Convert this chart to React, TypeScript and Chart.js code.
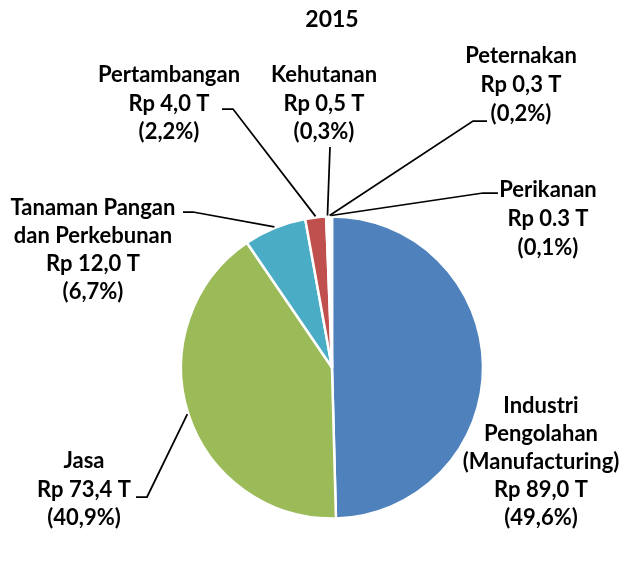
import React, { useEffect, useRef } from 'react';
import { Chart, registerables } from 'chart.js';

Chart.register(...registerables);

const chartTitle = '2015';
const categories = [
  'Industri Pengolahan (Manufacturing)',
  'Jasa',
  'Tanaman Pangan dan Perkebunan',
  'Pertambangan',
  'Kehutanan',
  'Peternakan',
  'Perikanan',
];
const nameLines = [
  ['Industri', 'Pengolahan', '(Manufacturing)'],
  ['Jasa'],
  ['Tanaman Pangan', 'dan Perkebunan'],
  ['Pertambangan'],
  ['Kehutanan'],
  ['Peternakan'],
  ['Perikanan'],
];
const values = [89.0, 73.4, 12.0, 4.0, 0.5, 0.3, 0.3];
const valueLabels = ['Rp 89,0 T', 'Rp 73,4 T', 'Rp 12,0 T', 'Rp 4,0 T', 'Rp 0,5 T', 'Rp 0,3 T', 'Rp 0.3 T'];
const percentLabels = ['(49,6%)', '(40,9%)', '(6,7%)', '(2,2%)', '(0,3%)', '(0,2%)', '(0,1%)'];
const sliceColors = ['#4F81BD', '#9BBB59', '#4BACC6', '#C0504D', '#F2F2F2', '#F2F2F2', '#F2F2F2'];

// label block placement: center x, first baseline, leader-line points (label side first)
const labelLayout: { x: number; y: number; lh: number; leader: number[][] | null }[] = [
  { x: 541, y: 413, lh: 28, leader: null },
  { x: 84, y: 468, lh: 28.5, leader: [[136, 497], [147, 497]] },
  { x: 93, y: 215, lh: 28, leader: [[183, 212], [193, 212]] },
  { x: 169, y: 82, lh: 28.5, leader: [[222, 109], [233, 109]] },
  { x: 324, y: 82, lh: 28.5, leader: [[330, 147]] },
  { x: 521, y: 63, lh: 29, leader: [[487, 121], [473, 121]] },
  { x: 548, y: 197, lh: 29, leader: [[498, 193], [483, 193]] },
];

const FONT = 'bold 22px Lato, "Open Sans", sans-serif';
const TITLE_FONT = 'bold 23px Lato, "Open Sans", sans-serif';

const labelPlugin = {
  id: 'pieLabels',
  afterDraw(chart: any) {
    const ctx = chart.ctx;
    const meta = chart.getDatasetMeta(0);
    ctx.save();
    ctx.fillStyle = '#000';
    ctx.textAlign = 'center';
    ctx.textBaseline = 'alphabetic';
    ctx.font = TITLE_FONT;
    ctx.fillText(chartTitle, 332, 27);

    ctx.font = FONT;
    meta.data.forEach((arc: any, i: number) => {
      const lay = labelLayout[i];
      const lines = [...nameLines[i], valueLabels[i], percentLabels[i]];
      lines.forEach((t, j) => ctx.fillText(t, lay.x, lay.y + j * lay.lh));
      if (lay.leader) {
        const p = arc.getProps(['x', 'y', 'startAngle', 'endAngle', 'outerRadius'], true);
        const mid = (p.startAngle + p.endAngle) / 2;
        const r = p.outerRadius + 1;
        const ex = p.x + Math.cos(mid) * r;
        const ey = p.y + Math.sin(mid) * r;
        ctx.beginPath();
        ctx.strokeStyle = '#000';
        ctx.lineWidth = 1.75;
        ctx.moveTo(lay.leader[0][0], lay.leader[0][1]);
        for (let k = 1; k < lay.leader.length; k++) ctx.lineTo(lay.leader[k][0], lay.leader[k][1]);
        ctx.lineTo(ex, ey);
        ctx.stroke();
      }
    });
    ctx.restore();
  },
};

export default function App() {
  const ref = useRef<HTMLCanvasElement | null>(null);
  useEffect(() => {
    if (!ref.current) return;
    const chart = new Chart(ref.current, {
      type: 'pie',
      data: {
        labels: categories,
        datasets: [
          {
            data: values,
            backgroundColor: sliceColors,
            borderColor: '#FFFFFF',
            borderWidth: 2.5,
            hoverOffset: 0,
            offset: 0,
            radius: 151,
          } as any,
        ],
      },
      options: {
        animation: false,
        responsive: false,
        maintainAspectRatio: false,
        events: [],
        layout: { padding: { left: 100, right: 61, top: 200, bottom: 27 } },
        plugins: {
          legend: { display: false },
          tooltip: { enabled: false },
          title: { display: false },
        },
      },
      plugins: [labelPlugin],
    });
    if ((document as any).fonts && (document as any).fonts.load) {
      (document as any).fonts.load(FONT).then(() => chart.draw()).catch(() => {});
    }
    return () => chart.destroy();
  }, []);
  return (
    <div style={{ position: 'absolute', left: 0, top: 0, width: 625, height: 562, background: '#fff' }}>
      <canvas ref={ref} width={625} height={562} style={{ width: 625, height: 562, display: 'block' }} />
    </div>
  );
}
